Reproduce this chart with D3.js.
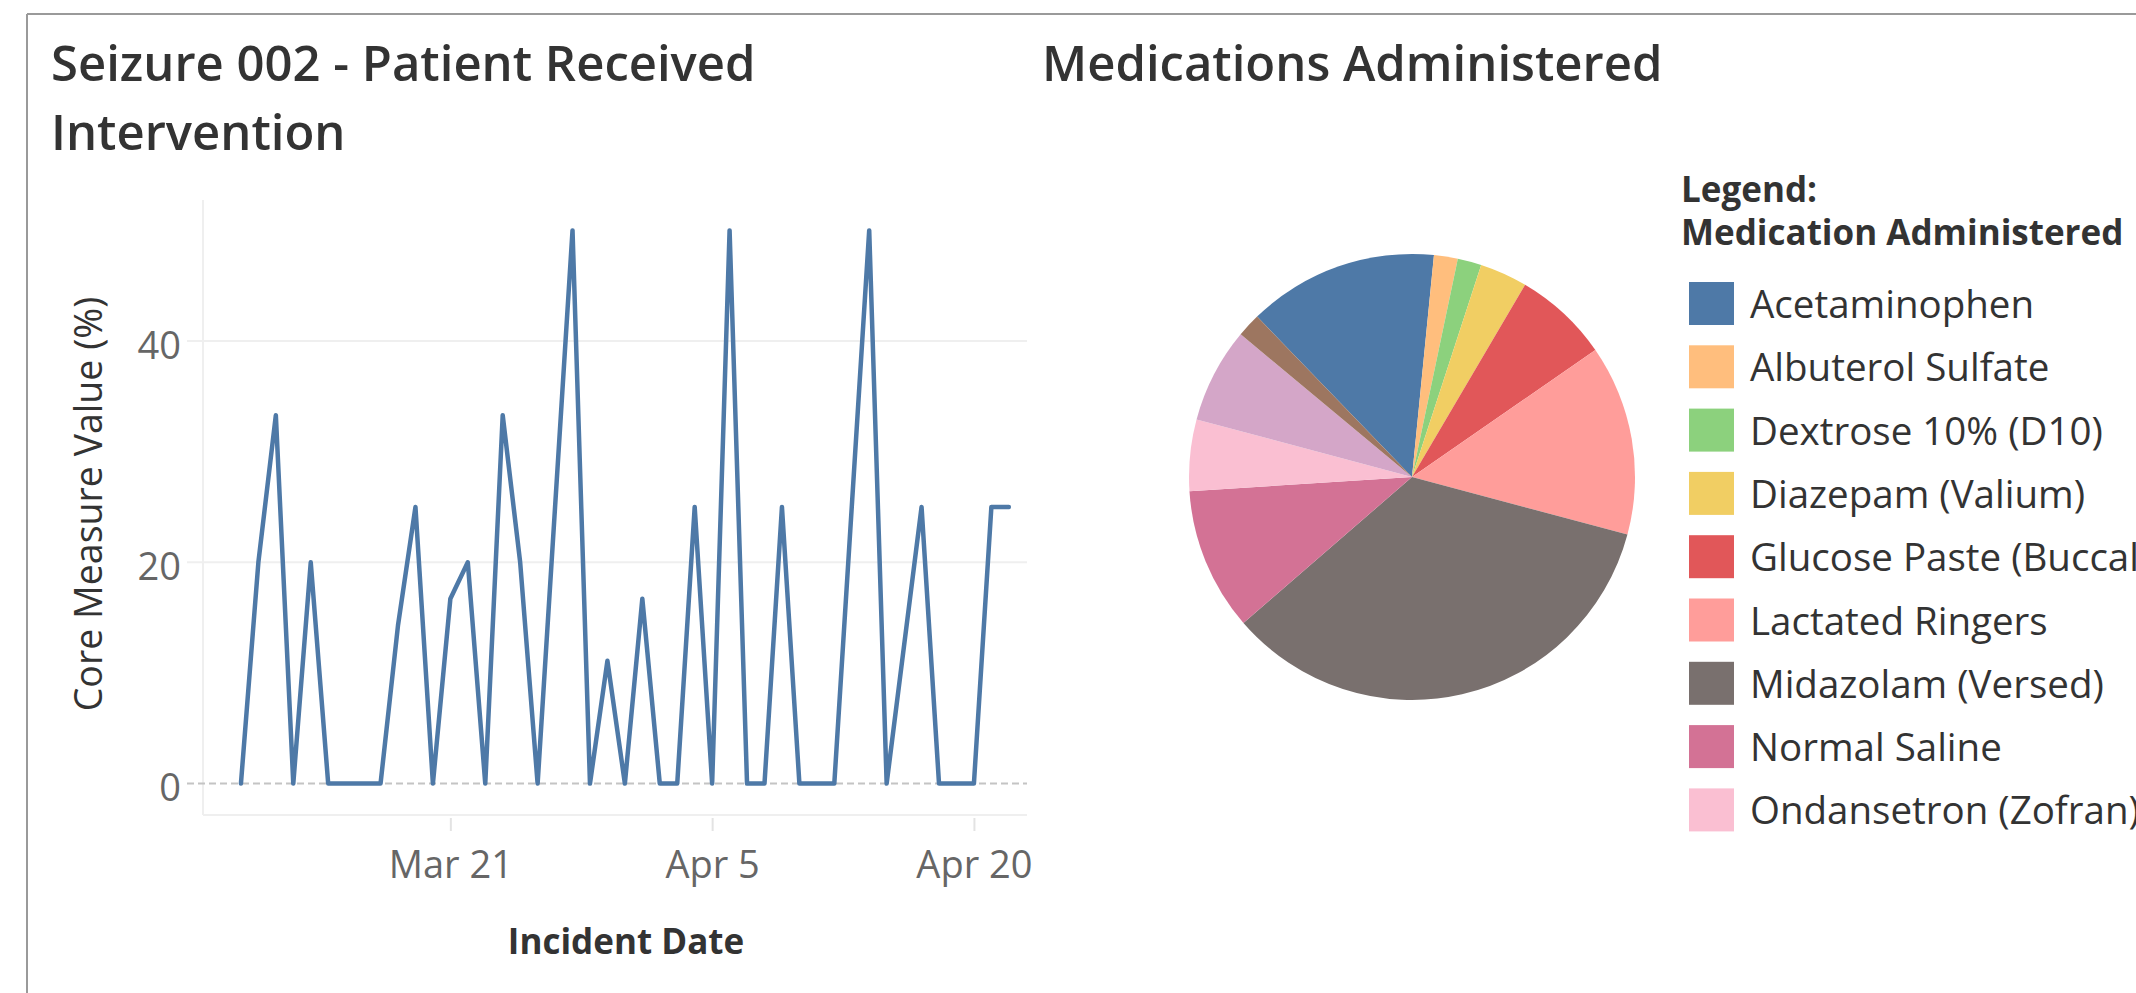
<!DOCTYPE html>
<html>
<head>
<meta charset="utf-8">
<script src="https://cdn.jsdelivr.net/npm/d3@7"></script>
<style>
  body { margin: 0; background: #fff; }
  svg { display: block; font-family: "Open Sans", sans-serif; }
</style>
</head>
<body>
<svg id="chart" width="2136" height="993"></svg>
<script>
// line chart data: one point per incident day
var lineDates = ["2018-03-09", "2018-03-10", "2018-03-11", "2018-03-12", "2018-03-13", "2018-03-14",
	"2018-03-15", "2018-03-16", "2018-03-17", "2018-03-18", "2018-03-19", "2018-03-20",
	"2018-03-21", "2018-03-22", "2018-03-23", "2018-03-24", "2018-03-25", "2018-03-26",
	"2018-03-28", "2018-03-29", "2018-03-30", "2018-03-31", "2018-04-01", "2018-04-02",
	"2018-04-03", "2018-04-04", "2018-04-05", "2018-04-06", "2018-04-07", "2018-04-08",
	"2018-04-09", "2018-04-10", "2018-04-11", "2018-04-12", "2018-04-14", "2018-04-15",
	"2018-04-17", "2018-04-18", "2018-04-19", "2018-04-20", "2018-04-21", "2018-04-22"];
var lineValues = [0, 20, 33.3, 0, 20, 0,
	0, 0, 0, 14.3, 25, 0,
	16.7, 20, 0, 33.3, 20, 0,
	50, 0, 11.1, 0, 16.7, 0,
	0, 25, 0, 50, 0, 0,
	25, 0, 0, 0, 50, 0,
	25, 0, 0, 0, 25, 25];
var xTickDates = ["2018-03-21", "2018-04-05", "2018-04-20"];
var yTickValues = [0, 20, 40];

// pie data
var medications = ["Acetaminophen", "Albuterol Sulfate", "Dextrose 10% (D10)", "Diazepam (Valium)",
	"Glucose Paste (Buccal)", "Lactated Ringers", "Midazolam (Versed)", "Normal Saline",
	"Ondansetron (Zofran)", "Oxygen", "Other"];
var medCounts = [8, 1, 1, 2, 4, 8, 20, 6, 3, 4, 1];
var medColors = ["#4e79a7", "#ffbe7d", "#8cd17d", "#f1ce63", "#e15759", "#ff9d9a",
	"#79706e", "#d37295", "#fabfd2", "#d4a6c8", "#9d7660"];
var legendVisible = 9; // the legend box is clipped after this many rows

var parseDate = d3.utcParse("%Y-%m-%d");
var svg = d3.select("#chart");

// dashboard frame
svg.append("line").attr("x1", 27).attr("x2", 2136).attr("y1", 14).attr("y2", 14)
	.attr("stroke", "#9a9a9a").attr("stroke-width", 2);
svg.append("line").attr("x1", 27).attr("x2", 27).attr("y1", 14).attr("y2", 993)
	.attr("stroke", "#9a9a9a").attr("stroke-width", 2);

// titles
var titleStyle = function(t) {
	t.attr("font-size", 49).attr("font-weight", 600).attr("fill", "#333");
};
svg.append("text").attr("x", 51).attr("y", 81).text("Seizure 002 - Patient Received").call(titleStyle);
svg.append("text").attr("x", 51).attr("y", 150).text("Intervention").call(titleStyle);
svg.append("text").attr("x", 1042).attr("y", 81).text("Medications Administered").call(titleStyle);

buildLineChart();
buildPieChart();
buildLegend();

function buildLineChart() {
	var left = 203, right = 1027, top = 200, bottom = 815;
	var data = lineDates.map(function(d, i) {
		return { date: parseDate(d), value: lineValues[i] };
	});

	var x = d3.scaleUtc()
		.domain([Date.UTC(2018, 2, 6, 19, 50), Date.UTC(2018, 3, 23, 1, 0)])
		.range([left, right]);
	var y = d3.scaleLinear()
		.domain([-2.84, 52.75])
		.range([bottom, top]);

	var g = svg.append("g");

	// gridlines (with short tick stubs to the left of the pane)
	g.selectAll(".grid")
		.data(yTickValues.filter(function(v) { return v !== 0; }))
		.enter().append("line")
		.attr("x1", left - 16).attr("x2", right)
		.attr("y1", function(d) { return y(d); })
		.attr("y2", function(d) { return y(d); })
		.attr("stroke", "#efefef").attr("stroke-width", 2);

	// pane borders
	g.append("line").attr("x1", left).attr("x2", left).attr("y1", top).attr("y2", bottom)
		.attr("stroke", "#efefef").attr("stroke-width", 2);
	g.append("line").attr("x1", left).attr("x2", right).attr("y1", bottom).attr("y2", bottom)
		.attr("stroke", "#efefef").attr("stroke-width", 2);

	// zero line
	g.append("line").attr("x1", left - 16).attr("x2", right)
		.attr("y1", y(0)).attr("y2", y(0))
		.attr("stroke", "#c4c4c4").attr("stroke-width", 2)
		.attr("stroke-dasharray", "7,4");

	// y axis labels
	var yAxis = d3.axisLeft(y).tickValues(yTickValues).tickSize(0).tickPadding(0);
	var ya = g.append("g").attr("transform", "translate(181,0)").call(yAxis);
	ya.select(".domain").remove();
	ya.selectAll("text")
		.attr("font-family", "Open Sans").attr("font-size", 38)
		.attr("fill", "#666").attr("dy", "0.45em");

	// x axis
	var xAxis = d3.axisBottom(x)
		.tickValues(xTickDates.map(parseDate))
		.tickFormat(d3.utcFormat("%b %-d"))
		.tickSize(13);
	var xa = g.append("g").attr("transform", "translate(0,818)").call(xAxis);
	xa.select(".domain").remove();
	xa.selectAll(".tick line").attr("stroke", "#e3e3e3").attr("stroke-width", 2);
	xa.selectAll("text")
		.attr("font-family", "Open Sans").attr("font-size", 38)
		.attr("fill", "#666").attr("y", 60).attr("dy", 0);

	// axis titles
	g.append("text")
		.attr("x", 626).attr("y", 954)
		.attr("text-anchor", "middle")
		.attr("font-size", 35).attr("font-weight", 700).attr("fill", "#333")
		.text("Incident Date");
	g.append("text")
		.attr("transform", "translate(102,504) rotate(-90)")
		.attr("text-anchor", "middle")
		.attr("font-size", 37.5).attr("fill", "#333")
		.text("Core Measure Value (%)");

	var line = d3.line()
		.x(function(d) { return x(d.date); })
		.y(function(d) { return y(d.value); });

	g.append("path")
		.datum(data)
		.attr("d", line)
		.attr("fill", "none")
		.attr("stroke", "#4e79a7")
		.attr("stroke-width", 4.5)
		.attr("stroke-linejoin", "round")
		.attr("stroke-linecap", "round");
}

function buildPieChart() {
	var radius = 223;
	var start = -44 * Math.PI / 180;
	var data = medications.map(function(m, i) {
		return { name: m, count: medCounts[i], color: medColors[i] };
	});
	var pie = d3.pie()
		.sort(null)
		.value(function(d) { return d.count; })
		.startAngle(start)
		.endAngle(start + 2 * Math.PI);
	var arc = d3.arc().innerRadius(0).outerRadius(radius);

	var g = svg.append("g").attr("transform", "translate(1412,477)");
	g.selectAll("path")
		.data(pie(data))
		.enter().append("path")
		.attr("d", arc)
		.attr("fill", function(d) { return d.data.color; })
		.append("title")
		.text(function(d) { return d.data.name + ": " + d.data.count; });
}

function buildLegend() {
	var g = svg.append("g");
	g.append("text").attr("x", 1681).attr("y", 202)
		.attr("font-size", 35).attr("font-weight", 700).attr("fill", "#333")
		.text("Legend:");
	g.append("text").attr("x", 1681).attr("y", 245)
		.attr("font-size", 35).attr("font-weight", 700).attr("fill", "#333")
		.text("Medication Administered");

	var rows = g.selectAll(".legend-row")
		.data(medications.slice(0, legendVisible))
		.enter().append("g")
		.attr("class", "legend-row")
		.attr("transform", function(d, i) { return "translate(0," + (i * 63.3) + ")"; });

	rows.append("rect")
		.attr("x", 1689).attr("y", 282)
		.attr("width", 45).attr("height", 43)
		.attr("fill", function(d, i) { return medColors[i]; });
	rows.append("text")
		.attr("x", 1750).attr("y", 318)
		.attr("font-size", 38.5).attr("fill", "#333")
		.text(function(d) { return d; });
}
</script>
</body>
</html>
